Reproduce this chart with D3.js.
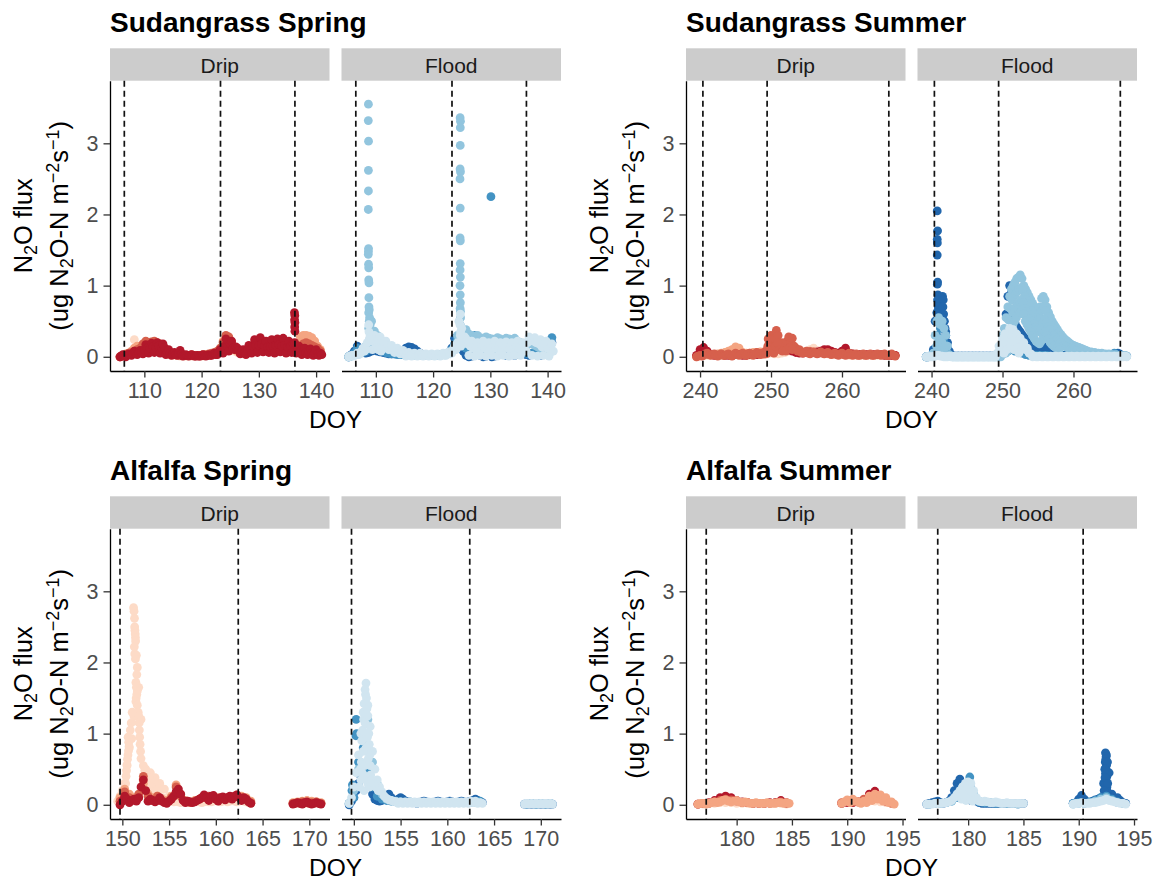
<!DOCTYPE html>
<html>
<head>
<meta charset="utf-8">
<script src="https://cdn.jsdelivr.net/npm/d3@7"></script>
<style>
  body { margin: 0; background: #fff; }
  svg { display: block; }
  text { font-family: "Liberation Sans", Arial, Helvetica, sans-serif; }
</style>
</head>
<body>
<script>
// Chamber colours: four drip chambers (reds), four flood chambers (blues)
const dripColours = ["#B2182B", "#D6604D", "#F4A582", "#FDDBC7"];
const floodColours = ["#2166AC", "#4393C3", "#92C5DE", "#D1E5F0"];
const panelNames = ["Drip", "Flood"];
const fluxTicks = [0, 1, 2, 3];
const fluxDomain = [-0.2, 3.88];

// Each chamber series is a list of runs [first DOY, sampling step (days), flux readings],
// plus optional burst readings [DOY, flux] taken during emission peaks.

// ---------------- Sudangrass, spring ----------------
const sgSprDomain = [104.0, 142.34];
const sgSprTicks = [110, 120, 130, 140];
const sgSprIrrigation = [106.5, 123.3, 136.3];

const sgSprDrip1 = [[105.75, 0.25, [
  0,.01,.03,.02,0,.02,.04,.03,
  .02,.05,.08,.05,.03,.06,.09,.06,
  .04,.1,.17,.12,.05,.12,.19,.14,.06,.13,.2,.15,.05,.12,.18,.13,
  .03,.06,.1,.05,.02,.04,.06,.03,.02,.05,.09,.04,
  .01,.02,.03,.02,.01,.02,.03,.02,.01,.01,.02,.01,.01,.02,.03,.02,.01,.02,.03,.02,.02,.04,.05,.03,
  .03,.07,.1,.06,
  .05,.15,.25,.14,.08,.18,.22,.12,.1,.14,.12,.09,
  .04,.08,.1,.06,.03,.09,.16,.1,
  .05,.15,.24,.16,.06,.16,.27,.18,.07,.15,.22,.14,.06,.14,.24,.15,.05,.16,.25,.17,.07,.15,.26,.16,.05,.14,.22,.15,.06,.18,.2,
  .05,.1,.15,.08,.03,.08,.12,.06,.03,.07,.11,.05,.02,.06,.1,.04,.02,.05,.03]]];
const sgSprDrip1Burst = [[136.22,.62],[136.28,.58],[136.24,.52],[136.3,.48],[136.26,.42],[136.3,.36]];
const sgSprDrip2 = [[105.75, 0.5, [
  0,.02,.03,.05,.06,.08,.1,.12,
  .18,.22,.2,.21,.22,.2,.18,.14,
  .08,.05,.04,.03,.03,.02,.02,.02,.02,.03,.02,.02,.02,.03,.03,.04,.05,.06,
  .08,.12,
  .2,.3,.28,.18,.12,.1,.08,.07,.08,
  .1,.12,.14,.12,.13,.15,.12,.14,.16,.15,.13,.12,.14,.12,.11,.12,.1,
  .1,.15,.18,.2,.18,.16,.14,.12,.08]]];
const sgSprDrip3 = [[105.75, 0.5, [
  0,.02,.04,.05,.08,.12,.15,.14,
  .16,.2,.2,.19,.18,.15,.12,.1,
  .06,.04,.03,.03,.02,.02,.02,.02,.02,.02,.02,.02,.02,.02,.02,.03,.04,.05,
  .06,.1,
  .22,.28,.25,.15,.1,.08,.06,.05,.06,
  .08,.1,.12,.1,.1,.12,.1,.12,.14,.12,.1,.1,.12,.1,.08,.1,.12,
  .18,.28,.3,.3,.29,.27,.22,.15,.1]]];
const sgSprDrip4 = [[105.75, 0.5, [
  0,.01,.02,.03,.05,.24,.08,.1,
  .1,.12,.14,.15,.14,.12,.1,.08,
  .05,.03,.02,.02,.02,.01,.01,.01,.01,.01,.01,.01,.01,.01,.02,.02,.03,.04,
  .05,.08,
  .15,.2,.18,.12,.08,.06,.05,.04,.05,
  .06,.08,.1,.08,.08,.1,.08,.1,.1,.1,.08,.08,.1,.08,.06,.08,.1,
  .1,.12,.15,.16,.15,.14,.12,.1,.06]]];

const sgSprFlood1 = [[105.25, 0.5, [
  0,.03,.08,.15,.12,.06,
  .05,.06,
  .08,.1,.08,.07,.06,.05,
  .04,.04,.04,.05,.06,.08,
  .12,.14,.13,.11,.08,.05,.03,.02,.02,.02,.02,.02,.02,.03,.04,.06,
  .12,.26,.2,.12,
  .08,.02,0,.01,.02,.05,
  .02,0,.01,.02,0,.01,.03,.05,.03,.02,.04,.03,.02,.03,.04,.05,
  .03,.02,.03,.04,.03,.02,.03,.05,.08,.2]]];
const sgSprFlood2 = [[105.25, 0.5, [
  0,.02,.05,.12,.08,.06,
  .08,.1,
  .12,.14,.12,.1,.08,.06,
  .05,.04,.04,.03,.03,.03,
  .03,.03,.02,.02,.02,.02,.02,.02,.02,.02,.02,.02,.03,.03,.04,.05,
  .1,.18,.25,.2,
  .15,.12,.2,.28,.3,.26,
  .2,.15,.1,.08,.06,.1,.2,.22,.2,.22,.2,.12,.1,.08,.06,.05,
  .05,.04,.05,.06,.05,.05,.1,.15,.22,.27]]];
const sgSprFlood2Burst = [[130.1, 2.25]];
const sgSprFlood3 = [[105.25, 0.5, [
  0,.01,.02,.03,.05,.08,
  .15,.4,
  .5,.36,.3,.24,.2,.16,
  .12,.1,.08,.06,.05,.04,
  .03,.03,.02,.02,.02,.02,.02,.02,.02,.02,.02,.03,.03,.03,.04,.05,
  .08,.15,.3,.45,
  .35,.38,.32,.3,.28,.3,
  .27,.25,.28,.26,.25,.24,.27,.25,.22,.26,.25,.24,.26,.22,.2,.18,
  .15,.2,.18,.16,.14,.12,.12,.1,.1,.08]]];
const sgSprFlood3Burst = [
  [108.7,3.55],[108.68,3.32],[108.72,3.03],[108.7,2.62],[108.7,2.33],[108.68,2.07],[108.72,1.52],
  [108.7,1.48],[108.68,1.44],[108.72,1.3],[108.75,1.25],[108.75,1.08],[108.8,1.04],[108.78,.83],
  [108.8,.7],[108.85,.66],[108.75,.62],[108.9,.55],[108.85,.5],[109.0,.45],[108.95,.4],
  [124.72,3.36],[124.78,3.31],[124.75,3.22],[124.74,2.97],[124.72,2.64],[124.78,2.6],[124.7,2.5],
  [124.74,2.09],[124.72,1.67],[124.76,1.63],[124.74,1.31],[124.72,1.22],[124.76,1.12],[124.7,1.0],
  [124.74,.87],[124.76,.76],[124.72,.68],[124.78,.64],[124.8,.55]];
const sgSprFlood4 = [[105.25, 0.25, [
  0,.01,.02,.01,
  .02,.03,.05,.03,
  .04,.08,.12,.08,
  .1,.2,.45,.3,
  .22,.28,.3,.25,
  .2,.26,.28,.2,
  .14,.2,.22,.15,
  .1,.14,.16,.1,
  .06,.1,.12,.07,
  .04,.07,.09,.05,
  .01,.04,.06,.02,.01,.04,.05,.02,.01,.03,.05,.02,.01,.03,.04,.02,.01,.03,.04,.02,.01,.03,.04,.02,.01,.03,.05,.02,.02,.05,.07,.04,
  .05,.1,.15,.1,
  .2,.5,.6,.4,
  .22,.28,.25,.18,
  .02,.15,.22,.12,.01,.14,.2,.1,.02,.16,.22,.12,.01,.12,.2,.1,.02,.15,.22,.12,.01,.14,.2,.1,.02,.15,.21,.12,.01,.13,.2,.1,.02,.14,.22,.12,.02,.15,.2,.1,
  .08,.2,.28,.24,.02,.22,.27,.2,.01,.18,.24,.14,.02,.15,.22,.12,.01,.12,.18,.08]]];
const sgSprFlood4Burst = [[108.8,.35],[108.85,.25],[109.4,.1],[109.9,.12],[110.4,.1],[110.9,.08],
  [124.7,.45],[124.8,.35],[124.75,.3],[124.7,.2],[124.85,.15]];

// ---------------- Sudangrass, summer ----------------
const sgSumDomain = [238.02, 268.95];
const sgSumTicks = [240, 250, 260];
const sgSumIrrigation = [240.4, 249.45, 266.6];

const sgSumDrip1 = [[239.5, 0.5, [
  .02,.1,.13,.08,
  .03,.02,.02,.03,.02,.02,.02,.03,.03,.02,.02,.03,.03,.03,.04,.04,
  .1,.15,.2,.15,.12,.15,.12,.08,
  .06,.05,.05,.06,.07,.06,.07,.08,
  .1,.1,.08,.06,.05,.08,.12,
  .05,.04,.03,.03,.03,.03,.03,.03,.03,.03,.02,.02,.02,.02]]];
const sgSumDrip2 = [[239.5, 0.25, [
  0,.01,.02,.01,
  .02,.04,.05,.03,
  .02,.03,.04,.02,.01,.03,.04,.02,.02,.03,.04,.02,.01,.03,.05,.03,.02,.03,.05,.03,.02,.04,.05,.03,.02,.04,.06,.04,.03,.04,.06,.04,
  .08,.2,.3,.18,.25,.37,.3,.15,
  .2,.12,.18,.22,
  .28,.2,.26,.15,
  .12,.08,.1,.06,
  .05,.06,.08,.05,.04,.06,.07,.05,.04,.05,.07,.05,.04,.05,.06,.04,
  .03,.04,.05,.03,.02,.04,.05,.03,.02,.03,.05,.03,.02,.03,.04,.02,.02,.03,.04,.02,.02,.03,.04,.02,.02,.03,.04,.03,.02,.03,.04,.02,.02,.03,.04,.02,.01]]];
const sgSumDrip2Burst = [[249.5,.05],[249.55,.15],[249.6,.25],[250.1,.1],[250.4,.05],[250.6,.15],[250.9,.2],
  [251.2,.1],[251.6,.08],[252.1,.08],[252.6,.12],[253.0,.1]];
const sgSumDrip3 = [[239.5, 0.5, [
  .01,.03,.05,.04,
  .03,.03,.04,.05,.06,.08,.1,.14,.12,.06,.05,.05,.06,.06,.07,.07,
  .12,.2,.25,.2,.15,.18,.2,.12,
  .1,.08,.07,.06,.08,.07,.06,.06,
  .05,.05,.05,.05,.04,.04,.04,
  .04,.04,.03,.03,.03,.03,.03,.03,.03,.03,.03,.02,.02,.02]]];
const sgSumDrip4 = [[239.5, 0.5, [
  0,.02,.03,.02,
  .02,.02,.02,.02,.02,.02,.03,.03,.03,.02,.02,.02,.03,.03,.03,.03,
  .04,.05,.04,.04,.05,.06,.08,.1,
  .1,.08,.06,.08,.1,.12,.09,.06,
  .04,.04,.03,.03,.03,.03,.03,
  .02,.02,.02,.02,.02,.02,.02,.02,.02,.02,.02,.02,.02,.02]]];

const sgSumFlood1 = [[239.25, 0.25, [
  0,0,.01,.02,.1,
  .5,.62,.7,.75,.6,.5,.35,.2,
  .08,.03,.01,.01,.01,.01,.01,.01,.01,.01,.01,.01,.01,.01,.01,.01,.01,.01,.01,.01,.01,.01,.01,.01,.01,.01,.01,.01,.02,.03,
  .1,.25,.6,.85,1.0,.9,.6,.48,
  .42,.38,.35,.31,.28,.25,.22,.2,
  .18,.16,.15,.13,.12,.11,.1,.12,
  .14,.13,.12,.1,.08,.05,.04,.03,
  .03,.02,.02,.02,.02,.01,.01,.01,
  .01,.01,.01,.01,.01,.01,.01,.01,
  .01,.01,.01,.01,.01,.01,.01,.01,.01,.01,.01,.01,.01,.01,.01,.02,.03,.05,.04,.02,.01,.01,.01]]];
const sgSumFlood1Burst = [[240.8,2.05],[240.85,1.77],[240.8,1.65],[240.82,1.6],[240.8,1.43],[240.85,1.05],
  [240.82,1.02],[240.9,.87],[241.0,.84],[240.85,.8],[241.1,.75],[240.95,.7],[241.2,.65],[240.8,.62],
  [241.4,.6],[241.55,.85],[241.65,.8],[241.6,.7],[241.7,.6],[241.8,.5],[241.9,.4],[242.0,.3],[242.15,.2],[242.3,.1]];
const sgSumFlood2 = [[239.25, 0.5, [
  0,.01,.05,
  .3,.4,.2,.05,
  .01,.01,.01,.01,.01,.01,.01,.01,.01,.01,.01,.01,.01,.01,.02,
  .05,.08,.1,.08,.06,.05,.03,
  .02,.02,.02,.02,.02,.02,.01,.01,.01,.01,.01,.01,.01,.01,.01,.01,.01,.01,.01,.01,.01,.01,.01,.03,.05,.02,.01,.01]]];
// second event logged at staggered times, so several interleaved runs
const sgSumFlood3 = [
  [239.25, 0.25, [0,0,.01,.02,.05, .3,.5,.55,.45,.5,.4,.3,.15,
    .03,.01,0,0,0,0,0,0,0,0,0,0,0,0,0,0,0,0,0,0,0,0,0,0,0,0,0,0,0,0]],
  [250.0, 0.25, [.3,.4,.55,.7,.85,.95, 1.0,1.05,1.1,1.12,1.15,1.1, 1.0,.95,.9,.85,.8,.75, .7,.65,.6,.7,.82,.85,
    .8,.7,.62,.56,.5,.46, .42,.38,.34,.31,.28,.25, .23,.21,.19,.17,.16,.15, .14,.13,.12,.11,.1,.09]],
  [250.08, 0.25, [.15,.25,.38,.52,.68,.8, .85,.88,.92,.95,.97,.93, .85,.8,.75,.7,.65,.6, .55,.5,.47,.55,.65,.7,
    .65,.56,.5,.44,.4,.36, .33,.3,.27,.24,.22,.2, .18,.16,.15,.13,.12,.11, .1,.09,.09,.08,.07,.07]],
  [250.17, 0.25, [.05,.1,.2,.35,.5,.62, .68,.7,.74,.77,.8,.76, .68,.63,.58,.54,.5,.46, .42,.38,.35,.4,.48,.52,
    .48,.42,.38,.33,.3,.27, .24,.22,.2,.18,.16,.14, .13,.12,.11,.1,.09,.08, .07,.06,.06,.05,.05,.05]],
  [250.21, 0.25, [.05,.05,.08,.2,.35,.45, .5,.55,.6,.62,.65,.6, .5,.45,.4,.35,.3,.26, .22,.2,.18,.22,.3,.35,
    .3,.25,.2,.17,.15,.13, .12,.1]],
  [262.0, 0.25, [.08,.05,.07,.04,.06,.04,.05,.03,.05,.03,.04,.03,.04,.02,.03,.02,.03,.02,.02,.02,.02,.02,.01]]];
const sgSumFlood3Burst = [[240.7,.15],[240.9,.2],[241.1,.25],[241.3,.15],[241.5,.2],[241.7,.1],[241.9,.15],
  [240.8,.08],[241.2,.08],[241.6,.06]];
const sgSumFlood4 = [[239.25, 0.25, [
  0,0,0,0,
  0,.01,.02,.02,.01,.01,0,0,
  0,.01,0,0,.01,0,0,.01,0,0,.01,0,0,.01,0,0,.01,0,0,.01,0,0,.01,0,0,.01,0,0,
  .05,.15,.08,.25,.12,.32,.2,.4,.28,.38,.25,.32,.2,.26,.15,.2,.1,.12,.05,.04,
  0,.01,0,0,.01,0,0,.01,0,0,.01,0,0,.01,0,0,.01,0,0,.01,0,0,.01,0,0,.01,0,
  0,.01,0,0,.01,0,0,.01,0,0,.01,0,0,.01,0,0,.01,0,0,.01,0,0,.01,0,0,.01,0]]];
const sgSumFlood4Burst = [[249.6,.1],[249.9,.18],[250.2,.05],[250.4,.2],[250.6,.1],[250.9,.28],[250.3,.32],
  [251.1,.15],[251.4,.22],[251.6,.1],[252.1,.12],[252.3,.05]];

// ---------------- Alfalfa, spring ----------------
const afSprDomain = [148.68, 172.16];
const afSprTicks = [150, 155, 160, 165, 170];
const afSprIrrigation = [149.75, 162.4];

const afSprDrip1 = [
  [149.75, 0.25, [
    0,.05,.12,.08, .03,.06,.08,.05, .1,.25,.35,.2, .05,.08,.06,.04, .06,.1,.05,.03,
    .02,.05,.08,.12, .18,.22,.15,.06, .03,.05,.04,.03, .04,.06,.08,.1, .14,.1,.06,.12,
    .13,.08,.05,.1, .11,.07,.1,.12, .08,.12,.14,.1, .06,.1,.08,.04,.02]],
  [168.25, 0.25, [.01,.02,.03,.02,.01,.03,.04,.02,.01,.02,.03,.02,.01]]];
const afSprDrip2 = [
  [149.75, 0.5, [.05,.18,.1,.08, .15,.4,.12,.06, .12,.06,.04,.1, .25,.12,.04,.03, .05,.08,.1,.12,
    .1,.09,.1,.1, .1,.12,.1,.08,.03]],
  [168.25, 0.5, [.02,.03,.04,.03,.03,.04,.02]]];
const afSprDrip3 = [
  [149.75, 0.5, [.1,.22,.15,.1, .1,.3,.15,.1, .12,.08,.06,.12, .28,.15,.06,.04, .06,.08,.1,.1,
    .1,.1,.1,.09, .1,.14,.12,.1,.05]],
  [168.25, 0.5, [.03,.04,.05,.06,.05,.04,.03]]];
const afSprDrip4 = [
  [149.5, 0.25, [.05,.12,.2,.3, .55,.8,.93,1.24, 2.1,1.65,1.2,.55, .5,.2,.45,.15, .38,.12,.3,.1, .22,.08,.12,.05,
    .04,.05,.04,.03,.04,.05,.04,.03,.04,.05, .06,.04,.03,.04,.05,.04,.04,.05,.06,.05,
    .04,.05,.06,.04,.05,.06,.05,.04,.05,.06, .05,.04,.03,.02]],
  [168.25, 0.25, [.02,.03,.02,.02,.03,.02,.02,.03,.02,.02,.03,.02,.02]]];
const afSprDrip4Burst = [[151.2,2.77],[151.25,2.72],[151.3,2.62],[151.32,2.5],[151.35,2.45],[151.38,2.4],
  [151.4,2.35],[151.42,2.3],[151.28,2.22],[151.33,2.12],[151.4,2.05],[151.6,1.93],[151.55,1.83],[151.45,1.72],
  [151.5,1.65],[151.6,1.6],[151.55,1.55],[151.48,1.5],[151.45,1.45],[151.6,1.4],[151.7,1.3],[151.75,1.25],
  [151.8,1.15],[151.82,1.05],[151.85,.95],[151.9,.85],[151.95,.75],[152.0,.65],[150.62,.95],[150.68,.88],
  [150.72,.82],[150.66,.76],[150.6,.7],[150.55,.64],[150.5,.56],[150.45,.48],[150.4,.4],[150.85,1.05],
  [150.95,1.15],[151.05,1.3],[150.35,.3],[150.25,.2],[152.4,.48],[152.9,.38],[153.4,.3],[153.9,.22],
  [152.6,.32],[153.1,.25],[153.6,.2],[152.2,.35]];

const afSprFlood1 = [
  [149.5, 0.25, [0,.05,.1,.2, .3,.4,.5,.55, .4,.25,.15,.08, .06,.05,.06,.08, .12,.15,.1,.06, .05,.08,.1,.08,
    .05,.04,.03,.03,.03,.02,.03,.04,.05,.04, .03,.03,.03,.04,.05,.04,.03,.03,.04,.05,
    .04,.03,.03,.04,.05,.04,.03,.04,.05,.06, .08,.06,.04,.03]],
  [168.25, 0.25, [.01,.01,.01,.01,.01,.01,.01,.01,.01,.01,.01,.01,.01]]];
const afSprFlood2 = [
  [149.5, 0.5, [.02,.1,.6,.8, .5,.25,.12,.08, .06,.05,.04,.04, .04,.04,.03,.03, .03,.03,.03,.03,
    .03,.03,.03,.03, .03,.03,.03,.04,.05]],
  [168.5, 0.5, [.01,.02,.01,.02,.01,.02]]];
const afSprFlood2Burst = [[150.25,1.2],[150.3,1.0],[150.22,.97],[149.85,.28],[149.8,.2]];
const afSprFlood3 = [
  [149.5, 0.5, [.02,.2,.5,.9, 1.2,.6,.3,.15, .08,.06,.05,.04,
    .03,.03,.03,.03,.03,.03,.03,.03,.03,.03,.03,.03,.03,.03,.03,.03,.03]],
  [168.5, 0.5, [.01,.02,.01,.02,.01,.02]]];
const afSprFlood4 = [
  [149.5, 0.25, [.02,.1,.25,.45, .7,1.0,1.3,1.55, 1.4,1.1,.75,.5, .35,.25,.18,.12, .09,.07,.06,.05,
    .04,.02,.04,.02,.04,.02,.04,.02,.04,.02, .04,.02,.04,.02,.04,.02,.04,.02,.04,.02,
    .04,.02,.04,.02,.04,.02,.04,.02,.04,.02, .04,.02,.05,.03,.05,.02,.03,.02]],
  [168.25, 0.25, [.01,.02,.01,.02,.01,.02,.01,.02,.01,.02,.01,.02,.01]]];
const afSprFlood4Burst = [[151.3,1.71],[151.2,1.62],[151.35,1.5],[151.1,1.42],[151.4,1.35],[151.05,1.2],
  [151.5,1.25],[150.95,1.05],[151.6,1.0],[150.85,.9],[151.65,.85],[151.7,.7],[150.8,.6],[151.75,.55],
  [151.8,.42],[150.7,.5],[150.75,.35],[151.5,.3],[151.25,.4],[151.1,.2],[151.3,.8],[151.2,1.15],[151.4,.6],
  [151.0,.75],[150.9,.45],[151.15,.55],[151.45,.95],[151.55,.65],[151.35,1.0],[150.6,.25],[151.7,.25],
  [151.9,.35],[152.1,.3],[152.3,.25],[152.6,.2]];

// ---------------- Alfalfa, summer ----------------
const afSumDomain = [175.42, 195.27];
const afSumTicks = [180, 185, 190, 195];
const afSumIrrigation = [177.25, 190.4];

const afSumDrip1 = [
  [176.5, 0.5, [.01,.02,.03,.06,.1,.12,.1,.06,.04,.03,.02,.02,.02,.03,.03,.06,.03]],
  [189.5, 0.5, [.02,.03,.03,.04,.06,.15,.19,.12,.05,.03]]];
const afSumDrip2 = [
  [176.5, 0.5, [.01,.02,.02,.04,.06,.08,.07,.05,.03,.03,.02,.02,.02,.02,.03,.04,.02]],
  [189.5, 0.5, [.03,.06,.04,.04,.08,.12,.14,.1,.05,.02]]];
const afSumDrip3 = [
  [176.5, 0.25, [.01,.02,.02,.01,.02,.03,.04,.03, .04,.06,.07,.05,.04,.05,.06,.04,
    .03,.04,.03,.02,.02,.03,.02,.02, .02,.03,.02,.02,.02,.03,.03,.02, .03,.02]],
  [189.5, 0.25, [.02,.04,.07,.03,.08,.05,.04,.02,.05,.03,.12,.06,.15,.08,.14,.05,.1,.03,.04,.01]]];
const afSumDrip4 = [
  [176.5, 0.5, [.01,.01,.02,.02,.03,.03,.03,.02,.02,.02,.02,.02,.02,.02,.02,.02,.01]],
  [189.5, 0.5, [.02,.04,.03,.03,.04,.05,.05,.04,.03,.02]]];

const afSumFlood1 = [
  [176.25, 0.25, [.01,.02,.03,.04, .05,.03,.02,.03, .05,.1,.2,.3, .36,.25,.12,.08, .06,.08,.05,.03,
    .02,.02,.02,.02, .02,.02,.02,.02, .02,.02,.02,.02, .02,.02,.02,.02]],
  [189.5, 0.25, [.02,.03,.08,.13,.08,.04,.03,.05,.07,.08,.1,.3,.7,.45,.15,.08,.1,.06,.03,.02]]];
const afSumFlood1Burst = [[192.42,.73],[192.48,.68],[192.45,.64],[192.4,.6],[192.52,.56],[192.44,.52],
  [192.5,.48],[192.42,.44],[192.55,.4],[192.46,.36],[192.5,.32],[192.4,.28],[192.55,.25],[192.48,.22],
  [192.6,.18],[192.35,.15],[192.58,.45],[192.6,.6],[192.36,.5],[192.38,.38],[192.62,.3],[192.3,.2],[192.65,.12]];
const afSumFlood2 = [
  [176.5, 0.5, [.01,.02,.02,.03,.05,.1,.15,.2,.08,.04,.03,.03,.02,.02,.02,.02,.01]],
  [189.5, 0.5, [.02,.03,.02,.04,.06,.1,.12,.08,.04,.02]]];
const afSumFlood2Burst = [[180.15,.39],[180.1,.3],[180.2,.25]];
const afSumFlood3 = [
  [176.5, 0.5, [.01,.02,.02,.03,.05,.15,.25,.3,.15,.05,.04,.03,.03,.02,.02,.02,.02]],
  [189.5, 0.5, [.01,.02,.02,.03,.05,.08,.1,.06,.03,.02]]];
const afSumFlood4 = [
  [176.25, 0.25, [.01,.01,.01,.02, .02,.02,.02,.03, .04,.06,.1,.15, .2,.25,.3,.32, .3,.2,.1,.05,
    .04,.05,.04,.03, .03,.04,.03,.02, .02,.03,.02,.02, .02,.02,.02,.02]],
  [189.5, 0.25, [.01,.02,.02,.03,.02,.02,.02,.03,.03,.04,.05,.06,.08,.06,.05,.04,.03,.02,.02,.01]]];
const afSumFlood4Burst = [[179.4,.08],[179.6,.12],[179.8,.06],[180.0,.15],[180.2,.1],[180.4,.05],
  [179.9,.22],[180.3,.18],[179.5,.15]];

// Plots in reading order; series listed in drawing order [colour index, runs, bursts]
const plots = [
  { title: "Sudangrass Spring", col: 0, row: 0, domain: sgSprDomain, ticks: sgSprTicks, irrigation: sgSprIrrigation,
    drip: [[3, sgSprDrip4, []], [2, sgSprDrip3, []], [1, sgSprDrip2, []], [0, sgSprDrip1, sgSprDrip1Burst]],
    flood: [[0, sgSprFlood1, []], [1, sgSprFlood2, sgSprFlood2Burst], [2, sgSprFlood3, sgSprFlood3Burst], [3, sgSprFlood4, sgSprFlood4Burst]] },
  { title: "Sudangrass Summer", col: 1, row: 0, domain: sgSumDomain, ticks: sgSumTicks, irrigation: sgSumIrrigation,
    drip: [[3, sgSumDrip4, []], [2, sgSumDrip3, []], [0, sgSumDrip1, []], [1, sgSumDrip2, sgSumDrip2Burst]],
    flood: [[0, sgSumFlood1, sgSumFlood1Burst], [1, sgSumFlood2, []], [2, sgSumFlood3, sgSumFlood3Burst], [3, sgSumFlood4, sgSumFlood4Burst]] },
  { title: "Alfalfa Spring", col: 0, row: 1, domain: afSprDomain, ticks: afSprTicks, irrigation: afSprIrrigation,
    drip: [[3, afSprDrip4, afSprDrip4Burst], [2, afSprDrip3, []], [1, afSprDrip2, []], [0, afSprDrip1, []]],
    flood: [[0, afSprFlood1, []], [1, afSprFlood2, afSprFlood2Burst], [2, afSprFlood3, []], [3, afSprFlood4, afSprFlood4Burst]] },
  { title: "Alfalfa Summer", col: 1, row: 1, domain: afSumDomain, ticks: afSumTicks, irrigation: afSumIrrigation,
    drip: [[3, afSumDrip4, []], [0, afSumDrip1, []], [1, afSumDrip2, []], [2, afSumDrip3, []]],
    flood: [[0, afSumFlood1, afSumFlood1Burst], [1, afSumFlood2, afSumFlood2Burst], [2, afSumFlood3, []], [3, afSumFlood4, afSumFlood4Burst]] }
];

// Turn runs + bursts into [DOY, flux] readings
function readings(runs, bursts) {
  const out = [];
  for (const [start, step, vals] of runs) vals.forEach((v, i) => out.push([start + i * step, v]));
  for (const p of bursts) out.push(p);
  return out;
}

// ---- layout ----
const W = 1161, H = 882;
const colLeft = [110, 686];
const rowShift = [0, 448];
const panelW = 219.5, panelGap = 12;
const stripTop = 48.3, stripBottom = 80.7, panelBottom = 371;
const pointR = 4.4;

const svg = d3.select("body").append("svg").attr("width", W).attr("height", H);

function styleAxis(g, fontSize) {
  g.attr("font-family", null).attr("font-size", null);
  g.select(".domain").attr("stroke", "#000").attr("stroke-width", 1.3);
  g.selectAll(".tick line").attr("stroke", "#333").attr("stroke-width", 1.3);
  g.selectAll(".tick text").attr("fill", "#4D4D4D").attr("font-size", fontSize);
}

plots.forEach(plot => {
  const x0 = colLeft[plot.col], dy = rowShift[plot.row];
  const g = svg.append("g");
  const y = d3.scaleLinear().domain(fluxDomain).range([panelBottom + dy, stripBottom + dy]);

  // plot title
  g.append("text").attr("x", x0).attr("y", 32 + dy)
    .attr("font-size", 28).attr("font-weight", "bold").attr("fill", "#000").text(plot.title);

  // y axis title (two lines, rotated)
  const cy = (stripBottom + panelBottom) / 2 + dy;
  const t1 = g.append("text").attr("transform", `translate(${x0 - 78.3},${cy}) rotate(-90)`)
    .attr("text-anchor", "middle").attr("font-size", 25.5).attr("fill", "#000");
  t1.append("tspan").text("N");
  t1.append("tspan").attr("font-size", 18).attr("dy", 5).text("2");
  t1.append("tspan").attr("dy", -5).text("O flux");
  const t2 = g.append("text").attr("transform", `translate(${x0 - 41.7},${cy}) rotate(-90)`)
    .attr("text-anchor", "middle").attr("font-size", 25.5).attr("fill", "#000");
  t2.append("tspan").text("(ug N");
  t2.append("tspan").attr("font-size", 18).attr("dy", 5).text("2");
  t2.append("tspan").attr("dy", -5).text("O-N m");
  t2.append("tspan").attr("font-size", 18).attr("dy", -9.5).text("\u22122");
  t2.append("tspan").attr("dy", 9.5).text("s");
  t2.append("tspan").attr("font-size", 18).attr("dy", -9.5).text("\u22121");
  t2.append("tspan").attr("dy", 9.5).text(")");

  panelNames.forEach((name, k) => {
    const left = x0 + k * (panelW + panelGap);
    const x = d3.scaleLinear().domain(plot.domain).range([left, left + panelW]);
    const colours = k === 0 ? dripColours : floodColours;
    const series = k === 0 ? plot.drip : plot.flood;

    // facet strip
    g.append("rect").attr("x", left).attr("y", stripTop + dy)
      .attr("width", panelW).attr("height", stripBottom - stripTop).attr("fill", "#CCCCCC");
    g.append("text").attr("x", left + panelW / 2).attr("y", 73 + dy)
      .attr("text-anchor", "middle").attr("font-size", 21).attr("fill", "#1A1A1A").text(name);

    // chamber readings
    series.forEach(([ci, runs, bursts]) => {
      g.append("g").selectAll("circle")
        .data(readings(runs, bursts))
        .join("circle")
        .attr("cx", d => x(d[0]))
        .attr("cy", d => y(d[1]))
        .attr("r", pointR)
        .attr("fill", colours[ci]);
    });

    // irrigation events
    g.append("g").selectAll("line").data(plot.irrigation).join("line")
      .attr("x1", d => x(d)).attr("x2", d => x(d))
      .attr("y1", stripBottom + dy).attr("y2", panelBottom + dy)
      .attr("stroke", "#111").attr("stroke-width", 1.7).attr("stroke-dasharray", "6,4");

    // x axis
    const ax = g.append("g").attr("transform", `translate(0,${panelBottom + dy})`)
      .call(d3.axisBottom(x).tickValues(plot.ticks).tickFormat(d3.format("d"))
        .tickSize(6.5).tickSizeOuter(0).tickPadding(5.5));
    styleAxis(ax, 21.5);

    // y axis on the first panel only
    if (k === 0) {
      const ay = g.append("g").attr("transform", `translate(${left},0)`)
        .call(d3.axisLeft(y).tickValues(fluxTicks).tickFormat(d3.format("d"))
          .tickSize(6.5).tickSizeOuter(0).tickPadding(5));
      styleAxis(ay, 21.5);
    }
  });

  // x axis title
  g.append("text").attr("x", x0 + panelW + panelGap / 2).attr("y", 427.5 + dy)
    .attr("text-anchor", "middle").attr("font-size", 24.5).attr("fill", "#000").text("DOY");
});
</script>
</body>
</html>
